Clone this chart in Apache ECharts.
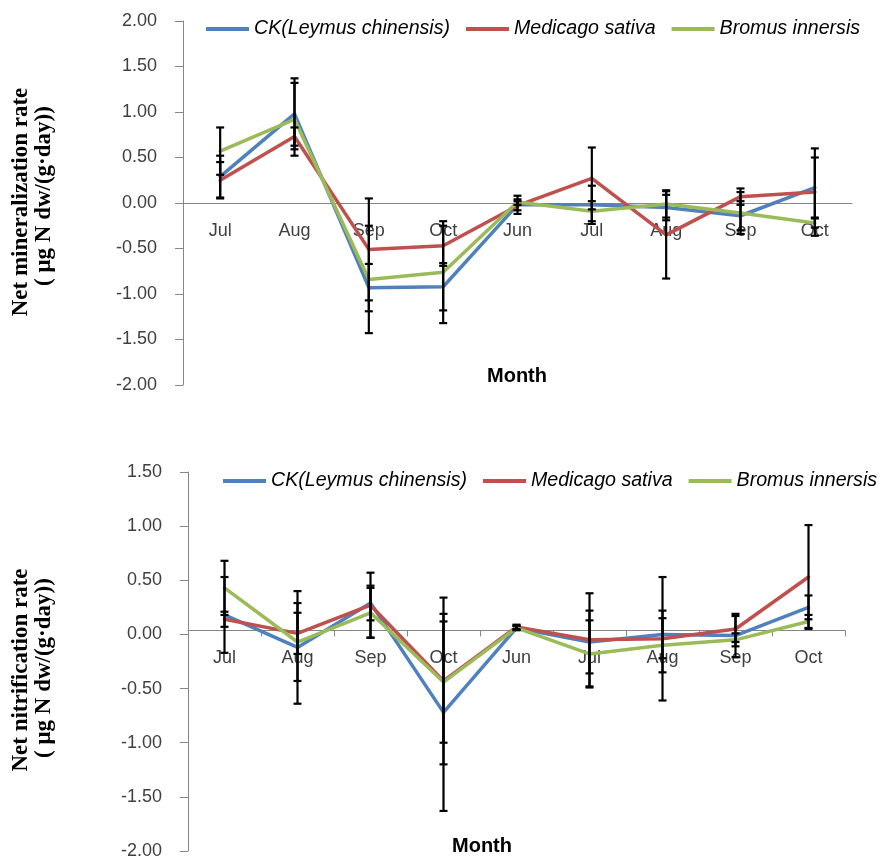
<!DOCTYPE html>
<html>
<head>
<meta charset="utf-8">
<script src="https://cdn.jsdelivr.net/npm/echarts@6/dist/echarts.min.js"></script>
<style>
html,body{margin:0;padding:0;background:#fff;}
#chart{width:880px;height:860px;}
</style>
</head>
<body>
<div id="chart"></div>
<script>
// ---- Data ----
const months = ['Jul', 'Aug', 'Sep', 'Oct', 'Jun', 'Jul', 'Aug', 'Sep', 'Oct'];
const seriesNames = ['CK(Leymus chinensis)', 'Medicago sativa', 'Bromus innersis'];

// Net mineralization rate
const minCK = [0.29, 0.98, -0.93, -0.92, -0.02, -0.02, -0.05, -0.14, 0.17];
const minMS = [0.25, 0.73, -0.51, -0.47, -0.03, 0.27, -0.35, 0.07, 0.12];
const minBI = [0.57, 0.92, -0.84, -0.76, 0.01, -0.09, -0.01, -0.11, -0.22];
const minCKErr = [0.23, 0.39, 0.26, 0.26, 0.10, 0.21, 0.14, 0.16, 0.33];
const minMSErr = [0.20, 0.10, 0.56, 0.22, 0.05, 0.34, 0.48, 0.09, 0.48];
const minBIErr = [0.26, 0.40, 0.59, 0.56, 0.03, 0.11, 0.15, 0.23, 0.05];

// Net nitrification rate
const nitCK = [0.18, -0.12, 0.29, -0.72, 0.06, -0.07, 0.00, -0.01, 0.25];
const nitMS = [0.14, 0.01, 0.27, -0.43, 0.07, -0.05, -0.04, 0.05, 0.53];
const nitBI = [0.43, -0.07, 0.20, -0.44, 0.06, -0.18, -0.10, -0.05, 0.12];
const nitCKErr = [0.35, 0.52, 0.16, 0.91, 0.02, 0.29, 0.22, 0.20, 0.11];
const nitMSErr = [0.07, 0.19, 0.30, 0.77, 0.02, 0.43, 0.57, 0.12, 0.48];
const nitBIErr = [0.25, 0.36, 0.23, 0.56, 0.02, 0.31, 0.25, 0.06, 0.06];

// axis ranges
const minRange = [-2, 2];
const nitRange = [-2, 1.5];

const colors = ['#4F81BD', '#C0504D', '#9BBB59'];
const labelFont = '"Liberation Sans", Arial, sans-serif';
const serifFont = '"Liberation Serif", "Times New Roman", serif';

const grids = [
  { left: 183, top: 21, width: 669, height: 364 },
  { left: 188, top: 472, width: 657, height: 386 }
];

function errData(vals, errs) {
  return vals.map((v, i) => [i, v - errs[i], v + errs[i]]);
}
function errRender(params, api) {
  const idx = api.value(0);
  const lo = api.coord([idx, api.value(1)]);
  const hi = api.coord([idx, api.value(2)]);
  const hw = 4;
  const st = { stroke: '#000', lineWidth: 2.2 };
  return {
    type: 'group',
    children: [
      { type: 'line', shape: { x1: lo[0], y1: lo[1], x2: hi[0], y2: hi[1] }, style: st },
      { type: 'line', shape: { x1: lo[0] - hw, y1: lo[1], x2: lo[0] + hw, y2: lo[1] }, style: st },
      { type: 'line', shape: { x1: hi[0] - hw, y1: hi[1], x2: hi[0] + hw, y2: hi[1] }, style: st }
    ]
  };
}

function lineSeries(name, data, color, gi) {
  return {
    name: name, type: 'line', data: data, xAxisIndex: gi, yAxisIndex: gi,
    symbol: 'none', smooth: false, color: color,
    lineStyle: { color: color, width: 3.5, join: 'round', cap: 'round' }, z: 2
  };
}
function errSeries(vals, errs, gi) {
  return {
    type: 'custom', xAxisIndex: gi, yAxisIndex: gi,
    data: errData(vals, errs), renderItem: errRender,
    encode: { x: 0, y: [1, 2] }, z: 3, silent: true
  };
}

const axisGray = '#868686';
function makeX(gi, showTicks, range) {
  // place the category axis (line, ticks and labels) at value 0 of the y axis
  const zeroOffset = -grids[gi].height * (0 - range[0]) / (range[1] - range[0]);
  return {
    type: 'category', gridIndex: gi, data: months, boundaryGap: true,
    position: 'bottom', offset: zeroOffset,
    axisLine: { onZero: false, lineStyle: { color: axisGray, width: 1 } },
    axisTick: { show: showTicks, alignWithLabel: false, length: 6, lineStyle: { color: axisGray } },
    axisLabel: { color: '#404040', fontSize: 18, fontFamily: labelFont, margin: 19, interval: 0 },
    splitLine: { show: false }
  };
}
function makeY(gi, range) {
  return {
    type: 'value', gridIndex: gi, min: range[0], max: range[1], interval: 0.5,
    axisLine: { show: true, onZero: false, lineStyle: { color: axisGray, width: 1 } },
    axisTick: { show: true, length: 8, lineStyle: { color: axisGray } },
    axisLabel: { color: '#404040', fontSize: 18, fontFamily: labelFont, margin: 26,
      formatter: v => v.toFixed(2) },
    splitLine: { show: false }
  };
}

const legendBase = {
  data: seriesNames, icon: 'rect', itemWidth: 43, itemHeight: 4, itemGap: 16,
  width: 720, orient: 'horizontal',
  textStyle: { fontSize: 19.6, fontStyle: 'italic', fontFamily: labelFont, color: '#000' },
  selectedMode: false
};

function vText(x, y, text, font) {
  return { type: 'text', x: x, y: y, rotation: Math.PI / 2,
    style: { text: text, font: font, fill: '#000',
      align: 'center', verticalAlign: 'middle', textAlign: 'center', textVerticalAlign: 'middle' } };
}
function hText(x, y, text, font) {
  return { type: 'text', x: x, y: y,
    style: { text: text, font: font, fill: '#000',
      align: 'center', verticalAlign: 'middle', textAlign: 'center', textVerticalAlign: 'middle' } };
}

const titleFont = 'bold 23px ' + serifFont;
const monthFont = 'bold 20px ' + labelFont;

const option = {
  animation: false,
  backgroundColor: '#fff',
  grid: grids,
  legend: [
    Object.assign({}, legendBase, { left: 201, top: 14 }),
    Object.assign({}, legendBase, { left: 218, top: 466 })
  ],
  xAxis: [makeX(0, false, minRange), makeX(1, true, nitRange)],
  yAxis: [makeY(0, minRange), makeY(1, nitRange)],
  graphic: [
    vText(21, 202, 'Net mineralization rate', titleFont),
    vText(44, 196, '( μg N dw/(g·day))', titleFont),
    hText(517, 376, 'Month', monthFont),
    vText(21, 670, 'Net nitrification rate', titleFont),
    vText(44, 668, '( μg N dw/(g·day))', titleFont),
    hText(482, 846, 'Month', monthFont)
  ],
  series: [
    lineSeries(seriesNames[0], minCK, colors[0], 0),
    lineSeries(seriesNames[1], minMS, colors[1], 0),
    lineSeries(seriesNames[2], minBI, colors[2], 0),
    errSeries(minCK, minCKErr, 0),
    errSeries(minMS, minMSErr, 0),
    errSeries(minBI, minBIErr, 0),
    lineSeries(seriesNames[0], nitCK, colors[0], 1),
    lineSeries(seriesNames[1], nitMS, colors[1], 1),
    lineSeries(seriesNames[2], nitBI, colors[2], 1),
    errSeries(nitCK, nitCKErr, 1),
    errSeries(nitMS, nitMSErr, 1),
    errSeries(nitBI, nitBIErr, 1)
  ]
};

const chart = echarts.init(document.getElementById('chart'), null, { renderer: 'canvas' });
chart.setOption(option);
</script>
</body>
</html>
